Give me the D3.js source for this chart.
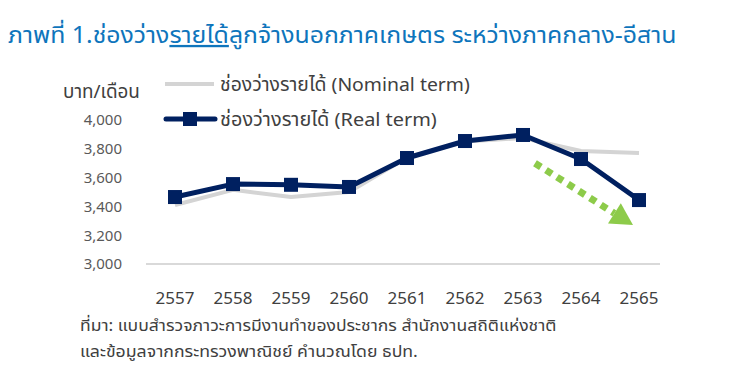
<!DOCTYPE html>
<html>
<head>
<meta charset="utf-8">
<script src="https://cdn.jsdelivr.net/npm/d3@7/dist/d3.min.js"></script>
<style>
  html, body { margin: 0; padding: 0; background: #fff; }
  svg { display: block; }
  text { font-family: "Noto Sans Thai", "Noto Sans", "DejaVu Sans", sans-serif; }
</style>
</head>
<body>
<svg id="chart" width="735" height="376"></svg>
<script>
const years = ["2557","2558","2559","2560","2561","2562","2563","2564","2565"];
const nominalValues = [3410, 3515, 3465, 3500, 3740, 3850, 3875, 3785, 3770];
const realValues = [3465, 3555, 3550, 3535, 3736, 3854, 3896, 3729, 3444];
const yTicks = [3000, 3200, 3400, 3600, 3800, 4000];
const titleParts = ["ภาพที่ 1.ช่องว่าง", "รายได้", "ลูกจ้างนอกภาคเกษตร ระหว่างภาคกลาง-อีสาน"];
const yUnit = "บาท/เดือน";
const legendLabels = ["ช่องว่างรายได้ (Nominal term)", "ช่องว่างรายได้ (Real term)"];
const sourceLines = ["ที่มา: แบบสำรวจภาวะการมีงานทำของประชากร สำนักงานสถิติแห่งชาติ", "และข้อมูลจากกระทรวงพาณิชย์ คำนวณโดย ธปท."];
const trendArrow = { from: ["2563", 3700], to: ["2565", 3270] };

const svg = d3.select("#chart");
const x = d3.scaleBand().domain(years).range([146, 668]);
const cx = d => x(d) + x.bandwidth() / 2;
const y = d3.scaleLinear().domain([3000, 4000]).range([264, 120]);

const navy = "#002060", grey = "#D4D4D4", green = "#8DCB4A", blue = "#0E75BC";

// stretch a text horizontally so it spans [x0, x1]
function fit(sel, x0, x1) {
  const w = sel.node().getBBox().width;
  const sx = (x1 - x0) / w;
  sel.attr("x", 0).attr("transform", `translate(${x0},0) scale(${sx},1)`);
  return sel;
}

// Title
const title = svg.append("text").attr("x", 0).attr("y", 43)
  .attr("font-size", 23).attr("fill", blue);
titleParts.forEach((t, i) => {
  title.append("tspan").text(t).attr("text-decoration", i === 1 ? "underline" : null);
});
fit(title, 8, 677);

// baseline
svg.append("line").attr("x1", 146).attr("x2", 660).attr("y1", y(3000)).attr("y2", y(3000))
  .attr("stroke", "#D9D9D9").attr("stroke-width", 2);

// y axis
const yAxis = d3.axisLeft(y).tickValues(yTicks).tickSize(0).tickPadding(0)
  .tickFormat(d3.format(","));
const gy = svg.append("g").attr("transform", "translate(122,0)").call(yAxis);
gy.select(".domain").remove();
gy.selectAll("text").attr("font-size", 15).attr("fill", "#595959")
  .style("font-family", "'Noto Sans', sans-serif");

const unit = svg.append("text").attr("y", 98).attr("font-size", 19).attr("fill", "#404040").text(yUnit);
fit(unit, 63, 140);

// x axis
const xAxis = d3.axisBottom(x).tickSize(0).tickPadding(0);
const gx = svg.append("g").attr("transform", "translate(0,292)").call(xAxis);
gx.select(".domain").remove();
gx.selectAll("text").attr("font-size", 17).attr("fill", "#404040")
  .style("font-family", "'Noto Sans', sans-serif");

// lines
const line = d3.line().x((d, i) => cx(years[i])).y(d => y(d));
svg.append("path").datum(nominalValues).attr("d", line)
  .attr("fill", "none").attr("stroke", grey).attr("stroke-width", 4).attr("stroke-linejoin", "round");
svg.append("path").datum(realValues).attr("d", line)
  .attr("fill", "none").attr("stroke", navy).attr("stroke-width", 5).attr("stroke-linejoin", "round");
svg.selectAll("rect.mk").data(realValues).enter().append("rect").attr("class", "mk")
  .attr("x", (d, i) => cx(years[i]) - 7).attr("y", d => y(d) - 7)
  .attr("width", 14).attr("height", 14).attr("fill", navy);

// trend arrow
const ax1 = cx(trendArrow.from[0]) + 12, ay1 = y(trendArrow.from[1]);
const ax2 = cx(trendArrow.to[0]) - 6, ay2 = y(trendArrow.to[1]);
const ang = Math.atan2(ay2 - ay1, ax2 - ax1);
const headLen = 22, headW = 12;
const bx = ax2 - headLen * Math.cos(ang), by = ay2 - headLen * Math.sin(ang);
svg.append("line").attr("x1", ax1).attr("y1", ay1).attr("x2", bx).attr("y2", by)
  .attr("stroke", green).attr("stroke-width", 7).attr("stroke-dasharray", "7,6");
const nx = -Math.sin(ang), ny = Math.cos(ang);
svg.append("path")
  .attr("d", `M${ax2},${ay2}L${bx + nx * headW},${by + ny * headW}L${bx - nx * headW},${by - ny * headW}Z`)
  .attr("fill", green);

// legend
const lg = svg.append("g");
lg.append("line").attr("x1", 165).attr("x2", 214).attr("y1", 84).attr("y2", 84)
  .attr("stroke", grey).attr("stroke-width", 4);
const l1 = lg.append("text").attr("y", 91).attr("font-size", 19).attr("fill", "#404040").text(legendLabels[0]);
fit(l1, 220, 470);
lg.append("line").attr("x1", 166).attr("x2", 215).attr("y1", 119).attr("y2", 119)
  .attr("stroke", navy).attr("stroke-width", 5).attr("stroke-linecap", "round");
lg.append("rect").attr("x", 183).attr("y", 112).attr("width", 14).attr("height", 14).attr("fill", navy);
const l2 = lg.append("text").attr("y", 126).attr("font-size", 19).attr("fill", "#404040").text(legendLabels[1]);
fit(l2, 220, 437);

// source
const srcEnds = [557, 418];
svg.selectAll("text.src").data(sourceLines).enter().append("text").attr("class", "src")
  .attr("y", (d, i) => 331 + i * 26).attr("font-size", 16).attr("fill", "#404040").text(d => d)
  .each(function(d, i) { fit(d3.select(this), 80, srcEnds[i]); });
</script>
</body>
</html>
